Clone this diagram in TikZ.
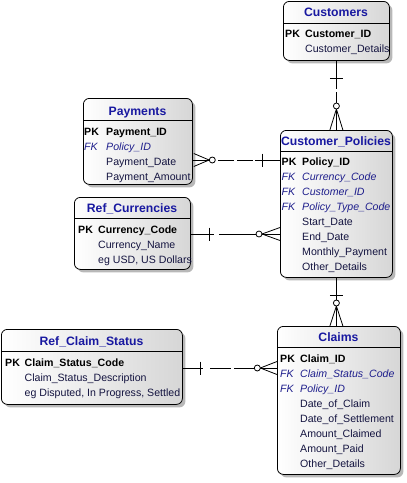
\documentclass[tikz,border=0pt]{standalone}
\usepackage{fontspec}
\setmainfont{Liberation Sans}
\usetikzlibrary{shadows,calc}
\definecolor{titleblue}{HTML}{1818A0}
\definecolor{fkblue}{HTML}{1E1E8C}
\definecolor{attrcol}{HTML}{141440}
\begin{document}
\begin{tikzpicture}[x=1pt,y=-1pt,
  entity/.style={draw=black, line width=0.8pt, rounded corners=6pt,
    left color=white, right color=black!16,
    drop shadow={shadow xshift=3pt, shadow yshift=-3pt, fill=black!28, opacity=1},
    inner sep=0pt, anchor=north west},
  ttl/.style={font=\fontsize{12.2}{14}\selectfont\bfseries, text=titleblue, anchor=base, inner sep=0pt},
  pk/.style={font=\fontsize{10.6}{13}\selectfont\bfseries, text=black, anchor=base west, inner sep=0pt},
  fk/.style={font=\fontsize{10.6}{13}\selectfont\itshape, text=fkblue, anchor=base west, inner sep=0pt},
  attr/.style={font=\fontsize{10.6}{13}\selectfont, text=attrcol, anchor=base west, inner sep=0pt},
  hdrline/.style={line width=0.8pt},
  conn/.style={line width=0.8pt},
  optring/.style={draw, line width=0.8pt, fill=white, circle, minimum size=6pt, inner sep=0pt}
]
\useasboundingbox (0,0) rectangle (407,483);

% ---------- entity boxes ----------
\node[entity, minimum width=106pt, minimum height=59pt]  (cust) at (283,1)   {};
\node[entity, minimum width=112pt, minimum height=147pt] (cp)   at (280,130) {};
\node[entity, minimum width=109pt, minimum height=86pt]  (pay)  at (83,98)   {};
\node[entity, minimum width=116pt, minimum height=72pt]  (cur)  at (74,197)  {};
\node[entity, minimum width=123pt, minimum height=148pt] (clm)  at (277,326) {};
\node[entity, minimum width=181pt, minimum height=75pt]  (rcs)  at (1,329)   {};

% header separators
\draw[hdrline] (cust.west |- 0,23.3) -- (cust.east |- 0,23.3);
\draw[hdrline] (cp.west |- 0,151) -- (cp.east |- 0,151);
\draw[hdrline] (pay.west |- 0,120) -- (pay.east |- 0,120);
\draw[hdrline] (cur.west |- 0,218.3) -- (cur.east |- 0,218.3);
\draw[hdrline] (clm.west |- 0,347.7) -- (clm.east |- 0,347.7);
\draw[hdrline] (rcs.west |- 0,351) -- (rcs.east |- 0,351);

% ---------- Customers ----------
\node[ttl] (cust-t) at (336,16.7) {Customers};
\node[pk] (cust-k1) at (285,37.5) {PK};
\node[pk] (cust-a1) at (305,37.5) {Customer\_ID};
\node[attr] (cust-a2) at (305,52.5) {Customer\_Details};

% ---------- Customer_Policies ----------
\node[ttl] (cp-t) at (336,145) {Customer\_Policies};
\node[pk] (cp-k1) at (281.5,165.7) {PK};
\node[pk] (cp-a1) at (302,165.7) {Policy\_ID};
\node[fk] (cp-k2) at (281.5,180.7) {FK};
\node[fk] (cp-a2) at (302,180.7) {Currency\_Code};
\node[fk] (cp-k3) at (281.5,195.7) {FK};
\node[fk] (cp-a3) at (302,195.7) {Customer\_ID};
\node[fk] (cp-k4) at (281.5,210.7) {FK};
\node[fk] (cp-a4) at (302,210.7) {Policy\_Type\_Code};
\node[attr] (cp-a5) at (302,225.7) {Start\_Date};
\node[attr] (cp-a6) at (302,240.7) {End\_Date};
\node[attr] (cp-a7) at (302,255.7) {Monthly\_Payment};
\node[attr] (cp-a8) at (302,270.7) {Other\_Details};

% ---------- Payments ----------
\node[ttl] (pay-t) at (137.5,115) {Payments};
\node[pk] (pay-k1) at (84,135) {PK};
\node[pk] (pay-a1) at (106,135) {Payment\_ID};
\node[fk] (pay-k2) at (84,150) {FK};
\node[fk] (pay-a2) at (106,150) {Policy\_ID};
\node[attr] (pay-a3) at (106,165) {Payment\_Date};
\node[attr] (pay-a4) at (106,180) {Payment\_Amount};

% ---------- Ref_Currencies ----------
\node[ttl] (cur-t) at (132,212.3) {Ref\_Currencies};
\node[pk] (cur-k1) at (78,233.3) {PK};
\node[pk] (cur-a1) at (98,233.3) {Currency\_Code};
\node[attr] (cur-a2) at (98,248.3) {Currency\_Name};
\node[attr] (cur-a3) at (98,263.3) {eg USD, US Dollars};

% ---------- Claims ----------
\node[ttl] (clm-t) at (338.5,341.7) {Claims};
\node[pk] (clm-k1) at (280,362.3) {PK};
\node[pk] (clm-a1) at (300,362.3) {Claim\_ID};
\node[fk] (clm-k2) at (280,377.3) {FK};
\node[fk] (clm-a2) at (300,377.3) {Claim\_Status\_Code};
\node[fk] (clm-k3) at (280,392.3) {FK};
\node[fk] (clm-a3) at (300,392.3) {Policy\_ID};
\node[attr] (clm-a4) at (300,407.3) {Date\_of\_Claim};
\node[attr] (clm-a5) at (300,422.3) {Date\_of\_Settlement};
\node[attr] (clm-a6) at (300,437.3) {Amount\_Claimed};
\node[attr] (clm-a7) at (300,452.3) {Amount\_Paid};
\node[attr] (clm-a8) at (300,467.3) {Other\_Details};

% ---------- Ref_Claim_Status ----------
\node[ttl] (rcs-t) at (91.5,345.7) {Ref\_Claim\_Status};
\node[pk] (rcs-k1) at (5,366) {PK};
\node[pk] (rcs-a1) at (24.5,366) {Claim\_Status\_Code};
\node[attr] (rcs-a2) at (24.5,381) {Claim\_Status\_Description};
\node[attr] (rcs-a3) at (24.5,396) {eg Disputed, In Progress, Settled};

% ---------- C1: Customers -- Customer_Policies ----------
\draw[conn, dash pattern=on 28pt off 3.5pt on 200pt] (cust.south) -- (cp.north);
\draw[conn] ($(cust.south)+(-6.5,18)$) -- ($(cust.south)+(6.5,18)$);
\coordinate (c1tip) at ($(cp.north)+(0,-21)$);
\draw[conn] (c1tip) -- ($(cp.north)+(-6.5,0)$);
\draw[conn] (c1tip) -- ($(cp.north)+(6.5,0)$);
\node[optring] (c1r) at ($(cp.north)+(0,-24)$) {};

% ---------- C2: Payments -- Customer_Policies ----------
\coordinate (c2a) at (cp.west |- 0,160);
\coordinate (c2b) at (pay.east |- 0,160);
\draw[conn, dash pattern=on 25pt off 2.5pt on 16pt off 2.5pt on 16pt off 3.5pt on 60pt] (c2a) -- (c2b);
\draw[conn] ($(c2a)+(-18,-6.5)$) -- ($(c2a)+(-18,6.5)$);
\coordinate (c2tip) at ($(c2b)+(16.3,0)$);
\draw[conn] (c2tip) -- ($(c2b)+(1,-6.5)$);
\draw[conn] (c2tip) -- ($(c2b)+(1,6.5)$);
\node[optring] (c2r) at ($(c2b)+(19.5,0)$) {};

% ---------- C3: Ref_Currencies -- Customer_Policies ----------
\coordinate (c3a) at (cur.east |- 0,234);
\coordinate (c3b) at (cp.west |- 0,234);
\draw[conn, dash pattern=on 23.3pt off 5pt on 200pt] (c3a) -- (c3b);
\draw[conn] ($(c3a)+(19,-6.5)$) -- ($(c3a)+(19,6.5)$);
\coordinate (c3tip) at ($(c3b)+(-18,0)$);
\draw[conn] (c3tip) -- ($(c3b)+(0,-6.5)$);
\draw[conn] (c3tip) -- ($(c3b)+(0,6.5)$);
\node[optring] (c3r) at ($(c3b)+(-21,0)$) {};

% ---------- C4: Customer_Policies -- Claims ----------
\coordinate (c4b) at (clm.north -| cp.south);
\draw[conn] (cp.south) -- (c4b);
\draw[conn] ($(cp.south)+(-6.5,18)$) -- ($(cp.south)+(6.5,18)$);
\coordinate (c4tip) at ($(c4b)+(0,-20)$);
\draw[conn] (c4tip) -- ($(c4b)+(-6.5,0)$);
\draw[conn] (c4tip) -- ($(c4b)+(6.5,0)$);
\node[optring] (c4r) at ($(c4b)+(0,-23)$) {};

% ---------- C5: Ref_Claim_Status -- Claims ----------
\coordinate (c5a) at (rcs.east |- 0,368);
\coordinate (c5b) at (clm.west |- 0,368);
\draw[conn, dash pattern=on 19.7pt off 7.6pt on 20.7pt off 3.3pt on 200pt] (c5a) -- (c5b);
\draw[conn] ($(c5a)+(18,-6.5)$) -- ($(c5a)+(18,6.5)$);
\coordinate (c5tip) at ($(c5b)+(-16.7,0)$);
\draw[conn] (c5tip) -- ($(c5b)+(0,-6.5)$);
\draw[conn] (c5tip) -- ($(c5b)+(0,6.5)$);
\node[optring] (c5r) at ($(c5b)+(-19.7,0)$) {};
\end{tikzpicture}
\end{document}
